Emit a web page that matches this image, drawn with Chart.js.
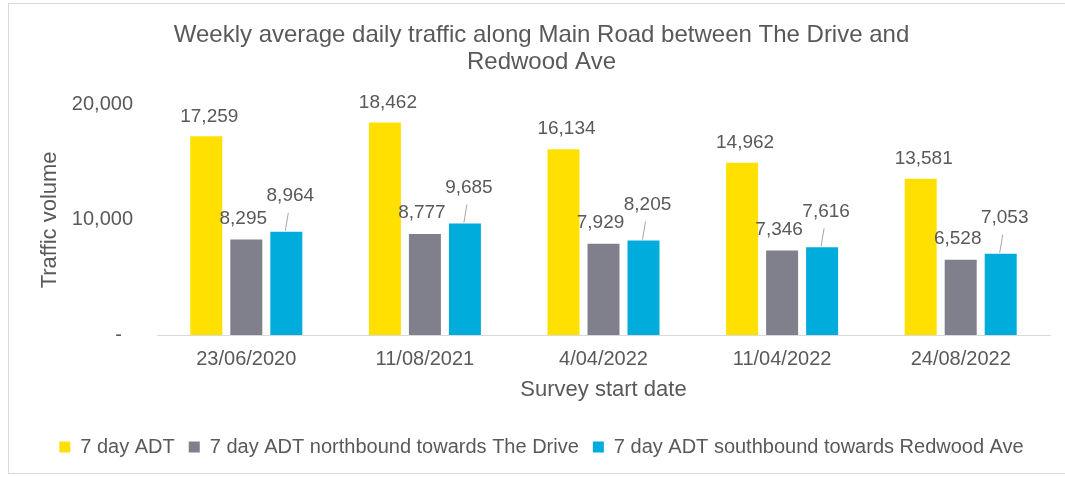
<!DOCTYPE html>
<html>
<head>
<meta charset="utf-8">
<title>Weekly average daily traffic</title>
<script src="https://cdn.jsdelivr.net/npm/chart.js@4"></script>
<style>
  html, body { margin: 0; padding: 0; background: #fff; }
  #wrap { position: relative; width: 1065px; height: 477px; overflow: hidden; }
  #frame { position: absolute; left: 8px; top: 3px; width: 1070px; height: 471px; border: 1px solid #d9d9d9; box-sizing: border-box; }
  #historyChart { position: absolute; left: 0; top: 0; }
</style>
</head>
<body>
<div id="wrap">
  <div id="frame"></div>
  <canvas id="historyChart" width="1065" height="477"></canvas>
</div>
<script>
// chart values
const surveyDates = ["23/06/2020", "11/08/2021", "4/04/2022", "11/04/2022", "24/08/2022"];
const adtTotal = [17259, 18462, 16134, 14962, 13581];
const adtNorth = [8295, 8777, 7929, 7346, 6528];
const adtSouth = [8964, 9685, 8205, 7616, 7053];
const seriesNames = [
  "7 day ADT",
  "7 day ADT northbound towards The Drive",
  "7 day ADT southbound towards Redwood Ave"
];
const yTicks = [0, 10000, 20000];

const textColor = "#595959";
const fontFamily = "'Liberation Sans', Arial, sans-serif";

// draws the value above each bar, the southbound ones get a small leader line
const barLabels = {
  id: "barLabels",
  afterDatasetsDraw(chart) {
    const ctx = chart.ctx;
    ctx.save();
    ctx.font = "19px " + fontFamily;
    ctx.fillStyle = textColor;
    ctx.textAlign = "center";
    ctx.textBaseline = "middle";
    chart.data.datasets.forEach((ds, i) => {
      const meta = chart.getDatasetMeta(i);
      meta.data.forEach((bar, j) => {
        const text = ds.data[j].toLocaleString("en-US");
        if (i === 2) {
          ctx.strokeStyle = "#a6a6a6";
          ctx.lineWidth = 1;
          ctx.beginPath();
          ctx.moveTo(bar.x - 1, bar.y - 1);
          ctx.lineTo(bar.x + 2, bar.y - 19);
          ctx.stroke();
          ctx.fillText(text, bar.x + 4, bar.y - 36);
        } else if (i === 1) {
          ctx.fillText(text, bar.x - 3, bar.y - 21);
        } else {
          ctx.fillText(text, bar.x + 3, bar.y - 20);
        }
      });
    });
    ctx.restore();
  }
};

const ctx = document.getElementById("historyChart").getContext("2d");

new Chart(ctx, {
  type: "bar",
  data: {
    labels: surveyDates,
    datasets: [
      { label: seriesNames[0], data: adtTotal, backgroundColor: "#ffe000" },
      { label: seriesNames[1], data: adtNorth, backgroundColor: "#80808c" },
      { label: seriesNames[2], data: adtSouth, backgroundColor: "#00acdc" }
    ]
  },
  options: {
    responsive: false,
    animation: false,
    layout: { padding: { left: 33, right: 15, top: 0, bottom: 10 } },
    datasets: {
      bar: { categoryPercentage: 0.672, barPercentage: 0.8 }
    },
    plugins: {
      title: {
        display: true,
        text: ["Weekly average daily traffic along Main Road between The Drive and", "Redwood Ave"],
        color: textColor,
        font: { family: fontFamily, size: 24, weight: "normal", lineHeight: 1.12 },
        padding: { top: 22, bottom: 29 }
      },
      legend: {
        position: "bottom",
        labels: {
          color: textColor,
          font: { family: fontFamily, size: 20 },
          boxWidth: 11,
          boxHeight: 11,
          padding: 14
        }
      },
      tooltip: { enabled: false }
    },
    scales: {
      x: {
        grid: { display: false, drawTicks: false },
        border: { color: "#d9d9d9", width: 1 },
        ticks: { color: textColor, font: { family: fontFamily, size: 20 }, padding: 12 },
        title: {
          display: true,
          text: "Survey start date",
          color: textColor,
          font: { family: fontFamily, size: 22 },
          padding: { top: 0, bottom: 20 }
        },
        afterFit(scale) { scale.height = 88; }
      },
      y: {
        min: 0,
        max: 20000,
        grid: { display: false, drawTicks: false },
        border: { display: false },
        afterBuildTicks(scale) { scale.ticks = yTicks.map(v => ({ value: v })); },
        ticks: {
          color: textColor,
          font: { family: fontFamily, size: 20 },
          padding: 24,
          callback: v => (v === 0 ? "-  " : v.toLocaleString("en-US"))
        },
        title: {
          display: true,
          text: "Traffic volume",
          color: textColor,
          font: { family: fontFamily, size: 22 },
          padding: { top: 4, bottom: 0 }
        },
        afterFit(scale) { scale.width = 124; }
      }
    }
  },
  plugins: [barLabels]
});
</script>
</body>
</html>
